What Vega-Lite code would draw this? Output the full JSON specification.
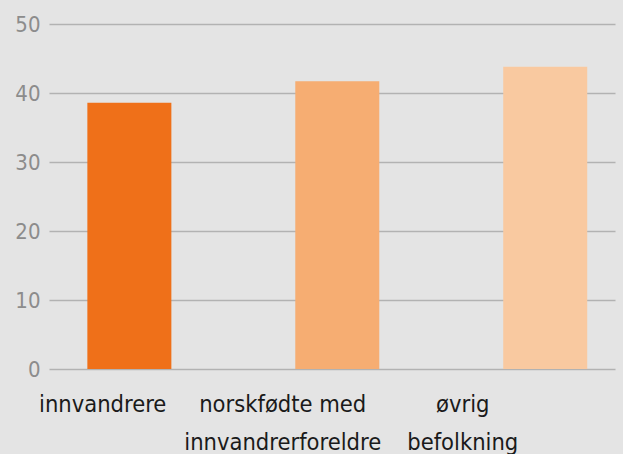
{
  "$schema": "https://vega.github.io/schema/vega-lite/v6.json",
  "width": 566,
  "height": 345,
  "autosize": {"type": "none"},
  "padding": {"left": 49, "top": 24, "right": 8, "bottom": 85},
  "background": "#e4e4e4",
  "config": {
    "view": {"stroke": null},
    "font": "DejaVu Sans Condensed, Roboto"
  },
  "data": {
    "values": [
      {"gruppe": "innvandrere", "verdi": 38.6},
      {"gruppe": "norskfødte med|innvandrerforeldre", "verdi": 41.7},
      {"gruppe": "øvrig|befolkning", "verdi": 43.8}
    ]
  },
  "layer": [
    {
      "mark": {"type": "bar", "opacity": 0},
      "encoding": {
        "x": {
          "field": "gruppe",
          "type": "nominal",
          "sort": null,
          "scale": {"paddingInner": 0.5, "paddingOuter": 0.322, "align": 0.075},
          "axis": {
            "title": null,
            "orient": "bottom",
            "domain": false,
            "ticks": false,
            "grid": false,
            "labelAngle": 0,
            "labelFont": "DejaVu Sans Condensed, Roboto",
            "labelFontSize": 23.5,
            "labelColor": "#1a1a1a",
            "labelPadding": 23,
            "labelLineHeight": 38,
            "labelLimit": 0,
            "labelExpr": "split(datum.label, '|')"
          }
        },
        "y": {"field": "verdi", "type": "quantitative"}
      }
    },
    {
      "mark": {"type": "bar"},
      "encoding": {
        "x": {
          "field": "gruppe",
          "type": "nominal",
          "sort": null,
          "scale": {"paddingInner": 0.596, "paddingOuter": 0.159, "align": 0.58},
          "axis": null
        },
        "y": {
          "field": "verdi",
          "type": "quantitative",
          "scale": {"domain": [0, 50]},
          "axis": {
            "title": null,
            "values": [0, 10, 20, 30, 40, 50],
            "domain": false,
            "ticks": false,
            "grid": true,
            "gridColor": "#b2b2b2",
            "gridWidth": 1.5,
            "labelFont": "DejaVu Sans Condensed, Roboto",
            "labelFontSize": 22,
            "labelColor": "#8c8c8c",
            "labelPadding": 9
          }
        },
        "color": {
          "field": "gruppe",
          "type": "nominal",
          "sort": null,
          "scale": {"range": ["#ef7019", "#f6ad72", "#f9c9a0"]},
          "legend": null
        }
      }
    }
  ],
  "resolve": {"scale": {"x": "independent"}, "axis": {"x": "independent"}}
}
